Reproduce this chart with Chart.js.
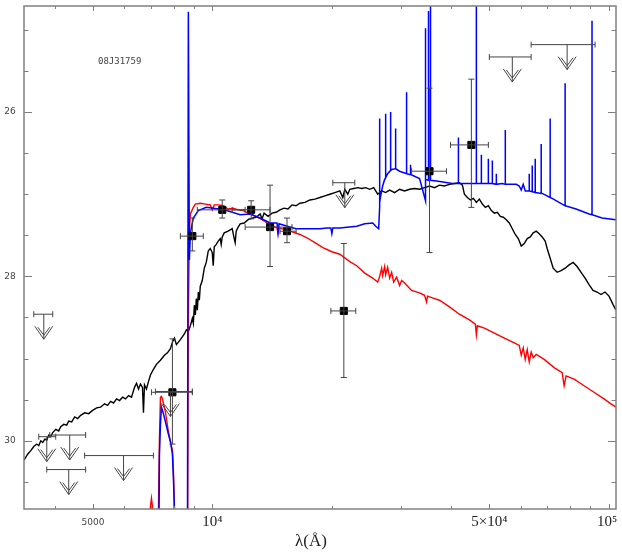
<!DOCTYPE html>
<html>
<head>
<meta charset="utf-8">
<script src="https://cdn.jsdelivr.net/npm/chart.js@4.4.1/dist/chart.umd.min.js"></script>
<style>
  body { margin: 0; background: #fff; }
  #wrap { width: 622px; height: 558px; }
</style>
</head>
<body>
<div id="wrap"><canvas id="sed" width="622" height="558"></canvas></div>
<script>
// wavelength in Angstrom, AB magnitude. 32 / 24.5 = off the plot (no flux / line peak above frame)
var objName = '08J31759';

var blackLam = [3347,3425,3485,3546,3608,3650,3693,3736,3780,3824,3868,3913,3959,4028,4099,4147,4220,4294,4344,4420,4498,4577,4656,4765,4877,4992,5109,5228,5351,5444,5540,5637,5736,5836,5939,6043,6148,6256,6366,6440,6515,6591,6668,6706,6746,6824,6903,6984,7106,7231,7401,7575,7707,7843,7935,8027,8121,8310,8505,8604,8704,8806,8909,8960,9013,9065,9118,9171,9224,9277,9329,9438,9548,9659,9771,9885,10000,10058,10117,10235,10354,10474,10535,10597,10720,10970,11229,11360,11425,11492,11625,11761,12037,12318,12608,12903,13205,13359,13515,13831,14155,14486,14826,15174,15529,15893,16265,16645,17134,17638,18157,18688,19237,19802,20384,20983,21350,21600,21978,22234,22756,23288,23833,24391,24963,25550,26146,26758,27385,28028,28852,29697,30570,31470,32395,33344,34324,35333,36372,37439,38540,39672,40838,42035,42771,43271,44028,44801,45590,46387,47206,48032,48877,49732,50609,51495,52395,53310,54249,55197,56165,57148,58153,59170,60207,61261,62332,63433,64549,65678,66822,67991,69188,69989,71221,72474,74166,75909,77687,79508,81376,83277,85241,87238,89260,91358,93491,95716,97958,100230,102585,104380];
var blackMag = [30.24,30.16,30.12,30.07,30.04,30.06,30.00,30.02,29.98,29.99,29.93,29.95,29.90,29.86,29.88,29.83,29.80,29.81,29.76,29.77,29.71,29.73,29.69,29.66,29.67,29.63,29.60,29.59,29.55,29.57,29.52,29.54,29.49,29.51,29.47,29.49,29.45,29.47,29.35,29.30,29.37,29.31,29.35,29.66,29.32,29.37,29.28,29.20,29.13,29.07,29.02,28.96,28.93,28.88,28.80,28.75,28.83,28.77,28.70,28.65,28.67,28.60,28.51,28.57,28.35,28.47,28.27,28.41,28.19,28.29,28.12,28.05,27.90,27.83,27.69,27.66,27.71,27.87,27.64,27.61,27.57,27.54,27.61,27.52,27.47,27.45,27.42,27.54,27.59,27.45,27.40,27.36,27.35,27.31,27.29,27.28,27.24,27.30,27.23,27.27,27.23,27.22,27.19,27.17,27.18,27.13,27.14,27.11,27.10,27.07,27.06,27.04,27.02,27.00,26.98,26.96,27.04,26.94,27.00,26.94,26.93,26.92,26.93,26.92,26.94,26.92,27.00,26.96,26.98,26.95,26.98,26.94,26.96,26.94,26.93,26.94,26.92,26.90,26.92,26.89,26.90,26.88,26.87,26.86,26.89,27.00,27.04,27.07,27.05,27.10,27.06,27.12,27.16,27.14,27.20,27.23,27.22,27.27,27.28,27.31,27.35,27.42,27.49,27.54,27.63,27.60,27.54,27.52,27.47,27.45,27.48,27.52,27.57,27.66,27.78,27.90,27.95,27.93,27.90,27.86,27.83,27.88,27.95,28.02,28.10,28.17,28.19,28.22,28.19,28.24,28.34,28.41];

var redLam = [6824,6984,7025,7066,7106,7274,7316,7358,7401,7444,7488,7619,7752,7843,7935,7981,8027,8074,8654,8704,8755,8806,8960,9065,9329,9603,9885,10000,10117,10354,10657,10970,11293,11625,11967,12462,12978,13359,13752,14236,14570,14655,14740,15262,15709,16645,17334,18157,19015,20034,20983,22234,23155,24250,25400,26146,26449,26758,26912,27227,27385,27703,28028,28356,28687,29188,29697,30045,30570,31838,33344,34324,34724,34925,36372,37439,39672,42035,44543,46120,46387,46654,48594,51495,54561,57817,59511,60207,60910,61618,62332,63067,63800,64549,65678,68787,72892,76344,77237,78137,81846,86732,91884,97391,101403,104380];
var redMag = [32,30.80,30.70,30.80,32,32,30.82,29.98,29.47,29.46,29.49,29.65,29.89,30.01,30.12,30.37,30.84,32,32,28.50,27.45,27.24,27.16,27.12,27.11,27.12,27.13,27.19,27.13,27.13,27.14,27.18,27.17,27.19,27.20,27.24,27.28,27.31,27.35,27.39,27.41,27.48,27.41,27.43,27.45,27.49,27.53,27.59,27.65,27.70,27.73,27.82,27.87,27.96,28.02,28.07,28.00,27.90,27.99,27.88,27.98,27.89,28.02,27.95,28.07,28.01,28.11,28.05,28.08,28.17,28.20,28.23,28.31,28.24,28.27,28.29,28.37,28.46,28.53,28.58,28.71,28.60,28.63,28.69,28.75,28.81,28.84,28.96,28.87,29.01,28.89,29.04,28.92,28.99,28.95,29.01,29.11,29.17,29.33,29.21,29.25,29.33,29.41,29.49,29.55,29.59];

var blueLam = [7316,7358,7401,7444,7531,7619,7752,7843,7935,7981,8027,8074,8654,8704,8755,8806,8857,8960,9224,9659,10720,11761,12462,13205,13991,14570,14655,14740,15709,16265,17334,18688,19462,19917,20034,20150,20983,23155,24250,25400,25847,26298,26449,26449,26449,26603,26912,27227,27385,27385,27385,27703,28190,28190,28190,28356,29021,29021,29021,29697,30927,30927,30927,31470,31653,31653,31653,33344,34524,34524,34524,35128,35128,35128,35538,35538,35538,36796,40366,41793,41793,41793,44543,46387,46387,46387,47758,47758,47758,49161,49732,49732,49732,50900,50900,50900,52095,52095,52095,53931,54880,54880,54880,58490,59511,60207,60908,61618,63067,63067,63067,64171,64171,64171,65300,65300,65300,67604,67604,67604,67991,71221,71221,71221,72049,76344,77687,77687,77687,82800,89260,90822,90822,90822,96265,104380];
var blueMag = [32,30.18,29.80,29.59,29.67,29.77,29.92,30.01,30.16,30.46,30.82,32,32,24.78,27.80,27.48,27.41,27.29,27.20,27.16,27.19,27.25,27.24,27.29,27.35,27.35,27.47,27.36,27.40,27.42,27.42,27.42,27.41,27.41,27.48,27.41,27.41,27.39,27.36,27.35,27.39,27.42,27.15,26.08,27.10,27.02,26.90,26.82,26.80,26.02,26.80,26.75,26.71,26.00,26.71,26.70,26.69,26.20,26.69,26.72,26.75,25.76,26.75,26.76,26.76,26.64,26.76,26.81,27.08,24.98,26.82,26.83,24.77,26.83,26.83,24.50,26.83,26.84,26.87,26.87,26.31,26.87,26.87,26.87,24.50,26.87,26.87,26.52,26.87,26.87,26.87,26.57,26.87,26.87,26.59,26.87,26.88,26.75,26.88,26.87,26.88,26.22,26.88,26.88,26.90,26.95,26.88,26.96,26.96,26.75,26.96,26.97,26.65,26.97,26.98,26.57,26.98,26.99,26.39,26.99,26.99,27.04,26.08,27.04,27.05,27.12,27.14,25.65,27.14,27.18,27.24,27.25,24.89,27.25,27.29,27.31];

// detections: centre, filter width (lo/hi) and magnitude error range
var photLam   = [8908,10598,12537,13991,15438,21478,35333,45060,7934];
var photLamLo = [8310,9170,11228,12106,14826,19920,31840,39910,7024];
var photLamHi = [9493,12106,13991,15896,16280,23020,38990,49740,8908];
var photMag   = [27.51,27.19,27.19,27.40,27.45,28.42,26.72,26.40,29.41];
var photMagLo = [27.29,27.07,27.08,26.89,27.29,27.60,25.71,25.60,28.76];
var photMagHi = [27.69,27.29,27.30,27.88,27.59,29.23,27.71,27.16,30.04];

// upper limits
var limLam   = [78600,57160,21600,3758,3824,4369,4344,5973,7843];
var limLamLo = [63770,50020,20150,3546,3650,3890,3824,4765,7188];
var limLamHi = [92440,63770,22890,3959,4028,4793,4793,7105,8908];
var limMag   = [25.18,25.33,26.86,28.46,29.95,29.93,30.35,30.18,29.40];

var xMinorTicks = [4000,5000,6000,7000,8000,9000,10000,20000,30000,40000,50000,60000,70000,80000,90000,100000];
var xLabelTicks = [5000,10000,50000,100000];
var xLabelText  = ['5000','10\u2074','5\u00d710\u2074','10\u2075'];
var yMinorTicks = [25,25.5,26,26.5,27,27.5,28,28.5,29,29.5,30,30.5];
var yLabelTicks = [26,28,30];

function pts(xs, ys){
  var out = [];
  for (var i = 0; i < xs.length; i++) out.push({x: xs[i], y: ys[i]});
  return out;
}

var frame = {
  id: 'frame',
  afterDatasetsDraw: function(chart){
    var ctx = chart.ctx, xs = chart.scales.x, ys = chart.scales.y;
    ctx.save();
    // error bars
    ctx.strokeStyle = '#444';
    ctx.lineWidth = 1;
    for (var i = 0; i < photLam.length; i++){
      var px = xs.getPixelForValue(photLam[i]), py = ys.getPixelForValue(photMag[i]);
      var x0 = xs.getPixelForValue(photLamLo[i]), x1 = xs.getPixelForValue(photLamHi[i]);
      var y0 = ys.getPixelForValue(photMagLo[i]), y1 = ys.getPixelForValue(photMagHi[i]);
      ctx.beginPath();
      ctx.moveTo(x0, py); ctx.lineTo(x1, py);
      ctx.moveTo(x0, py - 3); ctx.lineTo(x0, py + 3);
      ctx.moveTo(x1, py - 3); ctx.lineTo(x1, py + 3);
      ctx.moveTo(px, y0); ctx.lineTo(px, y1);
      ctx.moveTo(px - 3, y0); ctx.lineTo(px + 3, y0);
      ctx.moveTo(px - 3, y1); ctx.lineTo(px + 3, y1);
      ctx.stroke();
    }
    // upper limit arrows
    for (var j = 0; j < limLam.length; j++){
      var cx = xs.getPixelForValue(limLam[j]), cy = ys.getPixelForValue(limMag[j]);
      var l0 = xs.getPixelForValue(limLamLo[j]), l1 = xs.getPixelForValue(limLamHi[j]);
      var tip = cy + 25;
      ctx.beginPath();
      ctx.moveTo(l0, cy); ctx.lineTo(l1, cy);
      ctx.moveTo(l0, cy - 3); ctx.lineTo(l0, cy + 3);
      ctx.moveTo(l1, cy - 3); ctx.lineTo(l1, cy + 3);
      ctx.moveTo(cx, cy); ctx.lineTo(cx, tip);
      ctx.moveTo(cx - 9, tip - 13); ctx.lineTo(cx, tip); ctx.lineTo(cx + 9, tip - 13);
      ctx.moveTo(cx - 6, tip - 12); ctx.lineTo(cx, tip - 4); ctx.lineTo(cx + 6, tip - 12);
      ctx.stroke();
    }
    ctx.restore();
  },
  afterDraw: function(chart){
    var ctx = chart.ctx, xs = chart.scales.x, ys = chart.scales.y, a = chart.chartArea;
    ctx.save();
    ctx.strokeStyle = '#808080';
    ctx.lineWidth = 1.5;
    ctx.strokeRect(a.left, a.top, a.right - a.left, a.bottom - a.top);
    ctx.lineWidth = 1;
    ctx.beginPath();
    xMinorTicks.forEach(function(v){
      var p = Math.round(xs.getPixelForValue(v)) + 0.5;
      var len = xLabelTicks.indexOf(v) >= 0 ? 5 : 3;
      ctx.moveTo(p, a.bottom); ctx.lineTo(p, a.bottom - len);
      ctx.moveTo(p, a.top); ctx.lineTo(p, a.top + len);
    });
    yMinorTicks.forEach(function(v){
      var p = Math.round(ys.getPixelForValue(v)) + 0.5;
      var len = yLabelTicks.indexOf(v) >= 0 ? 8 : 4.5;
      ctx.moveTo(a.left, p); ctx.lineTo(a.left + len, p);
      ctx.moveTo(a.right, p); ctx.lineTo(a.right - len, p);
    });
    ctx.stroke();

    // tick labels
    ctx.textAlign = 'center';
    ctx.textBaseline = 'middle';
    ctx.fillStyle = '#444';
    ctx.font = '9px "DejaVu Sans"';
    yLabelTicks.forEach(function(v){
      ctx.fillText(String(v), 10, ys.getPixelForValue(v));
    });
    for (var k = 0; k < xLabelTicks.length; k++){
      var xp = xs.getPixelForValue(xLabelTicks[k]);
      if (xLabelTicks[k] === 5000){
        ctx.fillStyle = '#444';
        ctx.font = '9px "DejaVu Sans"';
        ctx.fillText(xLabelText[k], xp, 523);
      } else {
        ctx.fillStyle = '#222';
        ctx.font = '15px "Liberation Serif"';
        ctx.fillText(xLabelText[k], Math.min(xp, 607), 522);
      }
    }
    ctx.fillStyle = '#222';
    ctx.font = '17px "Liberation Serif"';
    ctx.fillText('\u03bb(\u00c5)', 311, 542);

    ctx.fillStyle = '#444';
    ctx.textAlign = 'left';
    ctx.font = '9px "DejaVu Sans Mono"';
    ctx.fillText(objName, 98, 62);
    ctx.restore();
  }
};

new Chart(document.getElementById('sed').getContext('2d'), {
  type: 'scatter',
  data: {
    datasets: [
      { label: 'photometry', data: pts(photLam, photMag), pointStyle: 'rect', pointRadius: 5,
        backgroundColor: '#000', borderColor: '#000', showLine: false },
      { label: 'blue', data: pts(blueLam, blueMag), showLine: true, borderColor: '#0000ff',
        borderWidth: 1.5, pointRadius: 0, tension: 0 },
      { label: 'red', data: pts(redLam, redMag), showLine: true, borderColor: '#ff0000',
        borderWidth: 1.4, pointRadius: 0, tension: 0 },
      { label: 'black', data: pts(blackLam, blackMag), showLine: true, borderColor: '#000',
        borderWidth: 1.4, pointRadius: 0, tension: 0 }
    ]
  },
  options: {
    responsive: false,
    animation: false,
    devicePixelRatio: 1,
    layout: { padding: { left: 24, right: 5, top: 3, bottom: 49 } },
    plugins: { legend: { display: false }, tooltip: { enabled: false } },
    scales: {
      x: { type: 'logarithmic', min: 3350, max: 104400, display: false },
      y: { type: 'linear', reverse: true, min: 24.71, max: 30.83, display: false }
    }
  },
  plugins: [frame]
});
</script>
</body>
</html>
